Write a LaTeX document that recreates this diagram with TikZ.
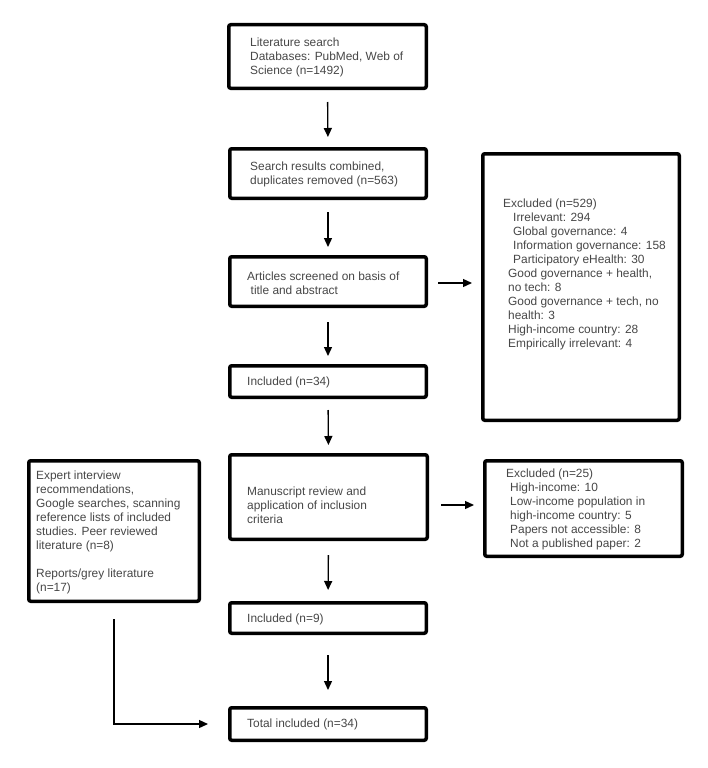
\documentclass[tikz,border=0pt]{standalone}
\usepackage{fontspec}
\setmainfont{Liberation Sans}
\usetikzlibrary{arrows.meta,shadows}
\begin{document}
\begin{tikzpicture}[x=1pt,y=-1pt,
  box/.style={draw=black, line width=3.5pt, rounded corners=2pt, fill=white, inner sep=0pt,
    drop shadow={opacity=0.25, shadow xshift=1pt, shadow yshift=-1pt}},
  txt/.style={anchor=west, align=left, inner sep=0pt, text=black!72,
    font=\fontsize{11.9pt}{14pt}\selectfont},
  arr/.style={line width=1.3pt, -{Triangle[width=8pt,length=9pt]}}]
\path[fill=white,use as bounding box] (0,0) rectangle (708,768);

% main column boxes
\node[box, minimum width=197.5pt, minimum height=63.5pt] (b1) at (327.5,56.5) {};
\node[box, minimum width=196.5pt, minimum height=49.5pt] (b2) at (328,173.5) {};
\node[box, minimum width=196.5pt, minimum height=49.5pt] (b3) at (328,281.5) {};
\node[box, minimum width=196.5pt, minimum height=31.5pt] (b4) at (328,381.5) {};
\node[box, minimum width=197.5pt, minimum height=84.5pt] (b5) at (328.5,497) {};
\node[box, minimum width=196.5pt, minimum height=30.5pt] (b6) at (328,618) {};
\node[box, minimum width=196.5pt, minimum height=32.5pt] (b7) at (328,724) {};
% side boxes
\node[box, minimum width=170.5pt, minimum height=140.5pt] (lb) at (114,531) {};
\node[box, minimum width=196.5pt, minimum height=266.5pt] (rb1) at (581,287) {};
\node[box, minimum width=197.5pt, minimum height=95.5pt] (rb2) at (583.5,508.5) {};

% texts
\node[txt] (t1) at (250,57.5) {Literature search\\Databases: PubMed, Web of\\Science (n=1492)};
\node[txt] (t2) at (250,174) {Search results combined,\\duplicates removed (n=563)};
\node[txt] (t3) at (247,283) {Articles screened on basis of\\\hspace{3.5pt}title and abstract};
\node[txt] (t4) at (247,382) {Included (n=34)};
\node[txt] (t5) at (247,505) {Manuscript review and\\application of inclusion\\criteria};
\node[txt] (t6) at (247,619) {Included (n=9)};
\node[txt] (t7) at (247,724) {Total included (n=34)};
\node[txt] (tl) at (36,532) {Expert interview\\recommendations,\\Google searches, scanning\\reference lists of included\\studies. Peer reviewed\\literature (n=8)\\[14pt]Reports/grey literature\\(n=17)};
\node[txt] (tr1) at (503,274) {Excluded (n=529)\\
\hspace{10pt}Irrelevant: 294\\
\hspace{10pt}Global governance: 4\\
\hspace{10pt}Information governance: 158\\
\hspace{10pt}Participatory eHealth: 30\\
\hspace{5pt}Good governance + health,\\
\hspace{5pt}no tech: 8\\
\hspace{5pt}Good governance + tech, no\\
\hspace{5pt}health: 3\\
\hspace{5pt}High-income country: 28\\
\hspace{5pt}Empirically irrelevant: 4};
\node[txt] (tr2) at (506,509.5) {Excluded (n=25)\\
\hspace{4pt}High-income: 10\\
\hspace{4pt}Low-income population in\\
\hspace{4pt}high-income country: 5\\
\hspace{4pt}Papers not accessible: 8\\
\hspace{4pt}Not a published paper: 2};

% connectors
\draw[arr, shorten <=12pt, shorten >=10pt] (b1.south) -- (b2.north);
\draw[arr, shorten <=12pt, shorten >=8pt] (b2.south) -- (b3.north);
\draw[arr, shorten <=14pt, shorten >=8pt] (b3.south) -- (b4.north);
\draw[arr, shorten <=11pt, shorten >=8pt] (b4.south) -- (b5.north);
\draw[arr, shorten <=14pt, shorten >=11pt] (b5.south) -- (b6.north);
\draw[arr, shorten <=20pt, shorten >=16pt] (b6.south) -- (b7.north);
\coordinate (a3) at ([yshift=-1.5pt]b3.east);
\draw[arr, shorten <=10pt, shorten >=9pt] (a3) -- (a3 -| rb1.west);
\coordinate (a5) at ([yshift=-8pt]b5.east);
\draw[arr, shorten <=12pt, shorten >=9pt] (a5) -- (a5 -| rb2.west);
\coordinate (ls) at ([yshift=-16pt]lb.south);
\draw[arr, shorten >=20pt] (ls) |- (b7.west);
\end{tikzpicture}
\end{document}
